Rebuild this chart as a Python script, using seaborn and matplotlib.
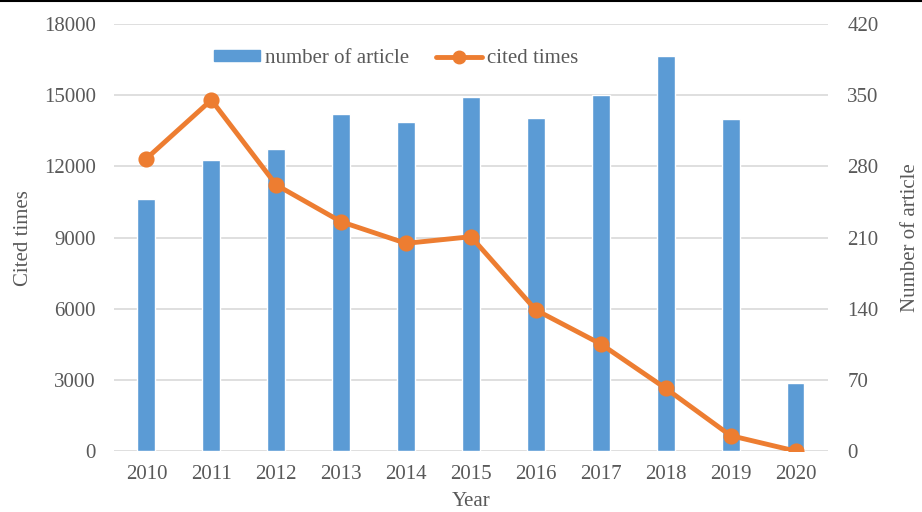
import numpy as np
import pandas as pd
import matplotlib
matplotlib.use("Agg")
import matplotlib.pyplot as plt
from matplotlib.patches import Patch
from matplotlib.lines import Line2D
import seaborn as sns

# chart values
years = ["2010", "2011", "2012", "2013", "2014", "2015", "2016", "2017", "2018", "2019", "2020"]
articles = [248, 286, 297, 332, 324, 348, 328, 350, 389, 327, 67]
cited = [12330, 14800, 11220, 9670, 8760, 9040, 5950, 4520, 2650, 660, 10]

left_ticks = [0, 3000, 6000, 9000, 12000, 15000, 18000]
right_ticks = [0, 70, 140, 210, 280, 350, 420]

df = pd.DataFrame({"year": years, "articles": articles, "cited": cited})

sns.set_theme(style="white")
plt.rcParams["font.family"] = ["Liberation Serif", "DejaVu Serif"]

TEXT = "#595959"
BAR = "#5b9bd5"
LINE = "#ed7d31"
GRID = "#d9d9d9"
FS = 15

fig = plt.figure(figsize=(9.22, 5.12), dpi=100)
ax = fig.add_axes([0.1236, 0.1186, 0.7744, 0.8345])  # line, left axis
ax2 = ax.twinx()                                      # bars, right axis

# bars on the right scale
sns.barplot(data=df, x="year", y="articles", ax=ax2, color=BAR,
            width=0.275, saturation=1, zorder=2)
ax2.set_ylim(0, 420)
ax2.set_yticks(right_ticks)
ax2.yaxis.grid(True, color=GRID, linewidth=1.2, zorder=0)
ax2.set_axisbelow(True)

# line on the left scale, drawn above the bars
sns.pointplot(data=df, x="year", y="cited", ax=ax, color=LINE,
              markers="o", markersize=9, linewidth=3.5, errorbar=None)
ax.set_ylim(0, 18000)
ax.set_yticks(left_ticks)
ax.set_xlim(-0.5, len(years) - 0.5)
ax2.set_xlim(-0.5, len(years) - 0.5)
ax.set_zorder(ax2.get_zorder() + 1)
ax.patch.set_visible(False)

for a in (ax, ax2):
    for s in a.spines.values():
        s.set_visible(False)
    a.tick_params(length=0, labelsize=FS, labelcolor=TEXT)

ax.tick_params(axis="y", pad=13)
ax2.tick_params(axis="y", pad=14)
ax.tick_params(axis="x", pad=10)

ax.set_xlabel("Year", fontsize=FS, color=TEXT, labelpad=6)
ax.set_ylabel("Cited times", fontsize=FS, color=TEXT, labelpad=8)
ax2.set_ylabel("Number of article", fontsize=FS, color=TEXT, labelpad=16)

handles = [
    Patch(facecolor=BAR, edgecolor=BAR),
    Line2D([0], [0], color=LINE, linewidth=3.5, marker="o", markersize=9),
]
leg = ax.legend(handles, ["number of article", "cited times"], loc="upper center",
                bbox_to_anchor=(0.395, 0.985), ncol=2, frameon=False, fontsize=FS,
                handlelength=2.2, handleheight=0.45, handletextpad=0.25,
                columnspacing=1.3, labelcolor=TEXT)

# thin dark line at top edge of the picture
fig.add_artist(Line2D([0, 1], [0.998, 0.998], transform=fig.transFigure,
                      color="black", linewidth=1.5))

fig.savefig("out.png", dpi=100)
